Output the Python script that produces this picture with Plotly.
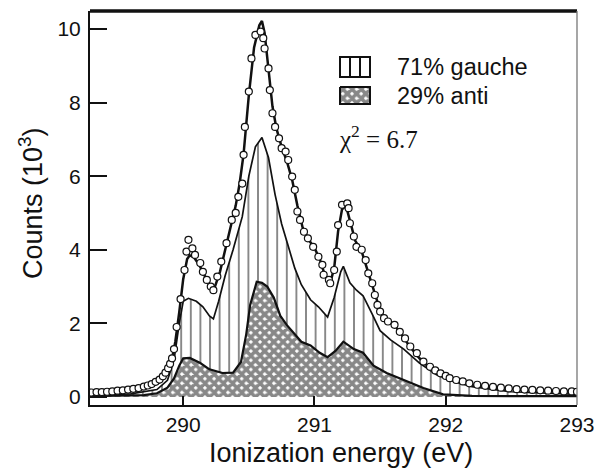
import plotly.graph_objects as go

# ---- measured spectrum (open circles) ----
data_x = [289.30, 289.34, 289.38, 289.42, 289.46, 289.50, 289.54, 289.58, 289.62, 289.66,
          289.70, 289.73, 289.76, 289.79, 289.82, 289.845, 289.865, 289.885, 289.90, 289.915,
          289.93, 289.95, 289.98, 290.01, 290.025, 290.04, 290.07, 290.09, 290.13, 290.15,
          290.18, 290.21, 290.23, 290.26, 290.29, 290.33, 290.37, 290.40, 290.42, 290.45,
          290.46, 290.47, 290.50, 290.52, 290.55, 290.59, 290.61, 290.62, 290.65, 290.66,
          290.68, 290.70, 290.73, 290.75, 290.78, 290.80, 290.83, 290.85, 290.87, 290.89,
          290.92, 290.95, 290.99, 291.03, 291.06, 291.07, 291.11, 291.12, 291.15, 291.17,
          291.18, 291.21, 291.25, 291.26, 291.27, 291.30, 291.32, 291.36, 291.39, 291.41,
          291.44, 291.46, 291.48, 291.50, 291.53, 291.56, 291.61, 291.65, 291.69, 291.73,
          291.78, 291.83, 291.88, 291.92, 291.96, 292.00, 292.03, 292.08, 292.13, 292.18,
          292.24, 292.30, 292.36, 292.42, 292.48, 292.54, 292.60, 292.66, 292.72, 292.78,
          292.84, 292.90, 292.96, 293.00]
data_y = [0.12, 0.13, 0.13, 0.14, 0.15, 0.17, 0.18, 0.20, 0.22, 0.24,
          0.28, 0.31, 0.35, 0.41, 0.47, 0.56, 0.66, 0.78, 0.90, 1.05,
          1.30, 1.90, 2.66, 3.45, 3.95, 4.27, 4.04, 3.86, 3.64, 3.40,
          3.18, 3.00, 2.90, 3.27, 3.68, 4.18, 4.81, 5.00, 5.44, 5.80,
          6.58, 7.34, 8.30, 9.20, 9.84, 9.93, 9.75, 9.47, 8.93, 8.34,
          7.71, 7.34, 7.03, 6.76, 6.67, 6.44, 5.99, 5.63, 5.04, 4.81,
          4.49, 4.31, 4.08, 3.81, 3.59, 3.32, 3.18, 3.09, 3.45, 3.95,
          4.67, 5.22, 5.26, 5.13, 4.72, 4.36, 4.08, 4.00, 3.72, 3.36,
          3.09, 2.77, 2.50, 2.32, 2.14, 2.05, 1.96, 1.77, 1.59, 1.37,
          1.19, 0.96, 0.82, 0.72, 0.64, 0.57, 0.51, 0.46, 0.42, 0.37,
          0.33, 0.30, 0.27, 0.25, 0.23, 0.21, 0.20, 0.19, 0.18, 0.17,
          0.16, 0.15, 0.15, 0.14]

# ---- total fit ----
fit_x = [289.29, 289.50, 289.65, 289.75, 289.82, 289.87, 289.91, 289.94, 289.97, 290.00,
         290.03, 290.05, 290.08, 290.12, 290.17, 290.21, 290.24, 290.28, 290.32, 290.36,
         290.40, 290.43, 290.46, 290.50, 290.54, 290.58, 290.60, 290.62, 290.65, 290.68,
         290.71, 290.75, 290.79, 290.83, 290.87, 290.91, 290.96, 291.00, 291.04, 291.08,
         291.12, 291.15, 291.18, 291.21, 291.24, 291.27, 291.31, 291.36, 291.40, 291.45,
         291.50, 291.55, 291.61, 291.66, 291.72, 291.80, 291.88, 291.96, 292.05, 292.20,
         292.40, 292.60, 292.80, 293.00]
fit_y = [0.10, 0.12, 0.18, 0.27, 0.40, 0.60, 0.95, 1.50, 2.30, 3.20,
         3.75, 3.85, 3.80, 3.60, 3.25, 3.00, 2.98, 3.40, 4.00, 4.60,
         5.20, 5.80, 6.60, 8.20, 9.50, 10.10, 10.22, 9.90, 8.90, 7.90,
         7.30, 6.80, 6.40, 5.90, 5.20, 4.60, 4.25, 4.05, 3.75, 3.30,
         3.10, 3.50, 4.50, 5.10, 5.20, 4.80, 4.25, 3.95, 3.50, 2.90,
         2.35, 2.05, 1.95, 1.72, 1.40, 1.05, 0.78, 0.60, 0.47, 0.34,
         0.24, 0.19, 0.16, 0.14]

# ---- gauche component (71 %) ----
gauche_x = [289.29, 289.60, 289.80, 289.88, 289.93, 289.97, 290.00, 290.04, 290.10, 290.15,
            290.20, 290.23, 290.27, 290.32, 290.38, 290.45, 290.50, 290.55, 290.60, 290.65,
            290.70, 290.75, 290.80, 290.85, 290.90, 290.97, 291.03, 291.10, 291.15, 291.20,
            291.22, 291.27, 291.32, 291.37, 291.44, 291.50, 291.58, 291.68, 291.80, 291.93,
            292.06, 292.20, 292.50, 292.80, 293.00]
gauche_y = [0.05, 0.08, 0.20, 0.45, 1.00, 2.00, 2.60, 2.68, 2.60, 2.45,
            2.20, 2.12, 2.60, 3.30, 4.00, 4.90, 6.00, 6.80, 7.05, 6.50,
            5.50, 4.70, 4.10, 3.50, 3.05, 2.64, 2.45, 2.17, 2.70, 3.40,
            3.55, 3.10, 2.90, 2.75, 2.25, 1.80, 1.55, 1.30, 0.92, 0.60,
            0.42, 0.28, 0.14, 0.09, 0.07]

# ---- anti component (29 %) ----
anti_x = [289.29, 289.70, 289.80, 289.88, 289.93, 289.97, 290.00, 290.05, 290.13, 290.20,
          290.30, 290.38, 290.44, 290.48, 290.51, 290.56, 290.60, 290.64, 290.69, 290.74,
          290.79, 290.84, 290.90, 290.97, 291.04, 291.10, 291.16, 291.22, 291.30, 291.37,
          291.45, 291.55, 291.68, 291.83, 291.98, 292.20, 292.60, 293.00]
anti_y = [0.02, 0.05, 0.10, 0.25, 0.50, 0.85, 1.05, 1.06, 0.92, 0.75,
          0.65, 0.66, 0.95, 1.70, 2.50, 3.13, 3.10, 3.00, 2.70, 2.20,
          1.95, 1.75, 1.50, 1.40, 1.20, 1.08, 1.25, 1.50, 1.30, 1.20,
          0.85, 0.65, 0.45, 0.24, 0.07, 0.03, 0.02, 0.02]

x_ticks = [290, 291, 292, 293]
y_ticks = [0, 2, 4, 6, 8, 10]
legend_labels = ["71% gauche", "29% anti"]
chi2_text = "\u03c7<sup>2</sup> = 6.7"
x_title = "Ionization energy (eV)"
y_title = "Counts (10<sup>3</sup>)"

W, H = 596, 473
ML, MR, MT, MB = 90, 19, 11, 68
PW, PH = W - ML - MR, H - MT - MB

INK = "#111111"
SANS = "Liberation Sans, Arial, sans-serif"
SERIF = "Liberation Serif, Times New Roman, serif"

HATCH = dict(shape="|", size=9.6, solidity=0.2, fgcolor=INK, bgcolor="white")
CHECK = dict(shape="x", size=6.5, solidity=0.8, fgcolor=INK, bgcolor="white")

fig = go.Figure()

# gauche component: vertical hatching down to zero
fig.add_trace(go.Scatter(
    x=gauche_x, y=gauche_y, mode="lines", fill="tozeroy",
    line=dict(color=INK, width=1.7),
    fillcolor="white", fillpattern=HATCH,
    showlegend=False, hoverinfo="skip"))

# anti component: checkered fill on top
fig.add_trace(go.Scatter(
    x=anti_x, y=anti_y, mode="lines", fill="tozeroy",
    line=dict(color=INK, width=2.2),
    fillcolor="white", fillpattern=CHECK,
    showlegend=False, hoverinfo="skip"))

# total fit
fig.add_trace(go.Scatter(
    x=fit_x, y=fit_y, mode="lines",
    line=dict(color=INK, width=2.5),
    showlegend=False, hoverinfo="skip"))

# measured points
fig.add_trace(go.Scatter(
    x=data_x, y=data_y, mode="markers",
    marker=dict(symbol="circle", size=7, color="white", line=dict(color=INK, width=1.2)),
    showlegend=False, hoverinfo="skip"))

# key swatches, drawn on a pixel-scaled overlay axis
sw_x0, sw_x1 = 250, 280
sw1_y0, sw1_y1 = 46, 66
sw2_y0, sw2_y1 = 76, 93
fig.add_trace(go.Scatter(
    x=[sw_x0, sw_x1, sw_x1, sw_x0, sw_x0], y=[sw2_y0, sw2_y0, sw2_y1, sw2_y1, sw2_y0],
    xaxis="x2", yaxis="y2", mode="lines", fill="toself",
    line=dict(color=INK, width=2), fillcolor="white", fillpattern=CHECK,
    showlegend=False, hoverinfo="skip"))

shapes = [
    # heavy top frame line and light right frame line
    dict(type="line", xref="paper", yref="paper", x0=0, x1=1, y0=1, y1=1,
         line=dict(color=INK, width=3.5)),
    dict(type="line", xref="paper", yref="paper", x0=1, x1=1, y0=0, y1=1,
         line=dict(color="#777777", width=1.3)),
    # hatched swatch
    dict(type="rect", xref="x2", yref="y2", x0=sw_x0, x1=sw_x1, y0=sw1_y0, y1=sw1_y1,
         line=dict(color=INK, width=2), fillcolor="white"),
]
for k in (1, 2):
    xv = sw_x0 + (sw_x1 - sw_x0) * k / 3
    shapes.append(dict(type="line", xref="x2", yref="y2", x0=xv, x1=xv, y0=sw1_y0, y1=sw1_y1,
                       line=dict(color=INK, width=2)))

annotations = [
    dict(xref="x2", yref="y2", x=305, y=(sw1_y0 + sw1_y1) / 2, text=legend_labels[0],
         showarrow=False, xanchor="left", yanchor="middle",
         font=dict(family=SANS, size=23.5, color=INK)),
    dict(xref="x2", yref="y2", x=305, y=(sw2_y0 + sw2_y1) / 2, text=legend_labels[1],
         showarrow=False, xanchor="left", yanchor="middle",
         font=dict(family=SANS, size=23.5, color=INK)),
    dict(xref="x2", yref="y2", x=247, y=126, text=chi2_text,
         showarrow=False, xanchor="left", yanchor="middle",
         font=dict(family=SERIF, size=25, color=INK)),
    # axis titles
    dict(xref="paper", yref="paper", x=(341 - ML) / PW, y=(MT + PH - 453) / PH,
         text=x_title, showarrow=False, xanchor="center", yanchor="middle",
         font=dict(family=SANS, size=27, color=INK)),
    dict(xref="paper", yref="paper", x=(31 - ML) / PW, y=(MT + PH - 203) / PH,
         text=y_title, textangle=-90, showarrow=False, xanchor="center", yanchor="middle",
         font=dict(family=SANS, size=27, color=INK)),
]

fig.update_layout(
    width=W, height=H,
    margin=dict(l=ML, r=MR, t=MT, b=MB, autoexpand=False),
    paper_bgcolor="white", plot_bgcolor="white",
    showlegend=False,
    font=dict(family=SANS, color=INK),
    xaxis=dict(
        range=[289.29, 293.0], tickvals=x_ticks, ticktext=[str(v) for v in x_ticks],
        ticks="inside", ticklen=9, tickwidth=1.5, tickcolor=INK,
        showline=True, linecolor=INK, linewidth=2, mirror=False,
        showgrid=False, zeroline=False, automargin=False,
        tickfont=dict(family=SANS, size=21, color=INK), ticklabelstandoff=0,
    ),
    yaxis=dict(
        range=[-0.22, 10.49], tickvals=y_ticks, ticktext=[str(v) for v in y_ticks],
        ticks="inside", ticklen=17, tickwidth=2, tickcolor=INK,
        showline=True, linecolor=INK, linewidth=2, mirror=False,
        showgrid=False, zeroline=False, automargin=False,
        tickfont=dict(family=SANS, size=21, color=INK), ticklabelstandoff=3,
    ),
    xaxis2=dict(range=[0, PW], overlaying="x", visible=False, fixedrange=True),
    yaxis2=dict(range=[PH, 0], overlaying="y", anchor="x2", visible=False, fixedrange=True),
    shapes=shapes,
    annotations=annotations,
)

fig.write_html("out.html")
